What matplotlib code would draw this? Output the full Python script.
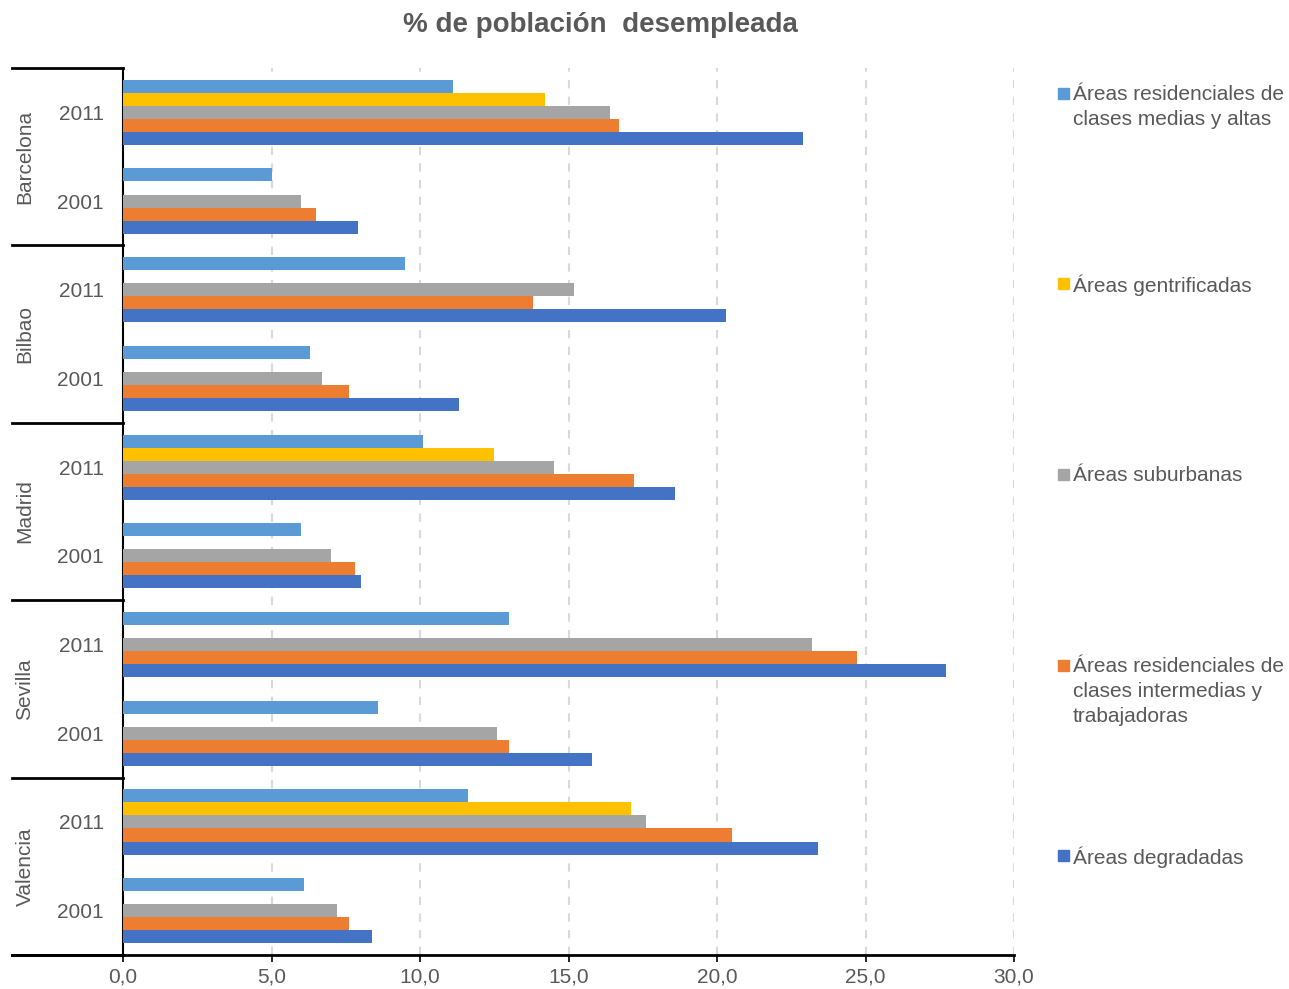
import numpy as np
import matplotlib.pyplot as plt
from matplotlib.patches import Rectangle
from matplotlib.lines import Line2D

plt.rcParams['font.family'] = ['Liberation Sans', 'DejaVu Sans']

# Data
cities = ['Barcelona', 'Bilbao', 'Madrid', 'Sevilla', 'Valencia']
years = ['2011', '2001']
nan = np.nan
medias_altas = [11.1, 5.0, 9.5, 6.3, 10.1, 6.0, 13.0, 8.6, 11.6, 6.1]
gentrificadas = [14.2, nan, nan, nan, 12.5, nan, nan, nan, 17.1, nan]
suburbanas = [16.4, 6.0, 15.2, 6.7, 14.5, 7.0, 23.2, 12.6, 17.6, 7.2]
intermedias = [16.7, 6.5, 13.8, 7.6, 17.2, 7.8, 24.7, 13.0, 20.5, 7.6]
degradadas = [22.9, 7.9, 20.3, 11.3, 18.6, 8.0, 27.7, 15.8, 23.4, 8.4]

series_labels = ['Áreas residenciales de\nclases medias y altas',
                 'Áreas gentrificadas',
                 'Áreas suburbanas',
                 'Áreas residenciales de\nclases intermedias y\ntrabajadoras',
                 'Áreas degradadas']
series = [medias_altas, gentrificadas, suburbanas, intermedias, degradadas]
colors = ['#5B9BD5', '#FFC000', '#A5A5A5', '#ED7D31', '#4472C4']
text_color = '#595959'

W, H = 1289, 989
fig = plt.figure(figsize=(W / 100, H / 100), dpi=100)
ax = fig.add_axes([123 / W, 1 - 955 / H, (1014 - 123) / W, (955 - 68) / H])

n_cat = len(cities) * len(years)
pos = np.arange(n_cat)
bh = 0.147
for i, (vals, col) in enumerate(zip(series, colors)):
    ax.barh(pos + (i - 2) * bh, vals, height=bh, color=col, zorder=3)

ax.set_xlim(0, 30)
ax.set_ylim(n_cat - 0.5, -0.5)
ax.set_xticks(np.arange(0, 31, 5))
ax.set_xticklabels([f'{v:.1f}'.replace('.', ',') for v in range(0, 31, 5)])
ax.set_yticks(pos)
ax.set_yticklabels(years * len(cities))
ax.tick_params(axis='y', length=0, pad=14, labelsize=15, labelcolor=text_color)
ax.tick_params(axis='x', length=5, width=1.2, pad=4, labelsize=15, labelcolor=text_color)

for x in range(5, 31, 5):
    ax.axvline(x, color='#D9D9D9', lw=1.5, ls=(0, (4, 4)), zorder=1)

for s in ['top', 'right']:
    ax.spines[s].set_visible(False)
ax.spines['left'].set_linewidth(1.5)
ax.spines['bottom'].set_visible(False)

# hierarchical category lines and city labels
xl = (12 - 123) / (1014 - 123)
trans = ax.get_yaxis_transform()
for k in range(len(cities) + 1):
    y = k * len(years) - 0.5
    ax.add_line(Line2D([xl, 0], [y, y], transform=trans, color='black', lw=2, clip_on=False))
ax.add_line(Line2D([xl, 1], [n_cat - 0.5] * 2, transform=trans, color='black', lw=2, clip_on=False))
for k, city in enumerate(cities):
    ax.text((25 - 123) / (1014 - 123), k * len(years) + 0.5, city, transform=trans,
            rotation=90, ha='center', va='center', fontsize=15, color=text_color)

fig.text(600 / W, 1 - 25 / H, '% de población  desempleada', ha='center', va='center',
         fontsize=20, fontweight='bold', color=text_color)

# legend on the right
leg_y = [93, 283, 474, 665, 855]
for y, lab, col in zip(leg_y, series_labels, colors):
    fig.patches.append(Rectangle((1058 / W, 1 - (y + 6) / H), 11 / W, 11 / H,
                                 transform=fig.transFigure, color=col))
    fig.text(1073 / W, 1 - (y - 8) / H, lab, ha='left', va='top', fontsize=15,
             color=text_color, linespacing=1.4)

fig.savefig('out.png', dpi=100)
